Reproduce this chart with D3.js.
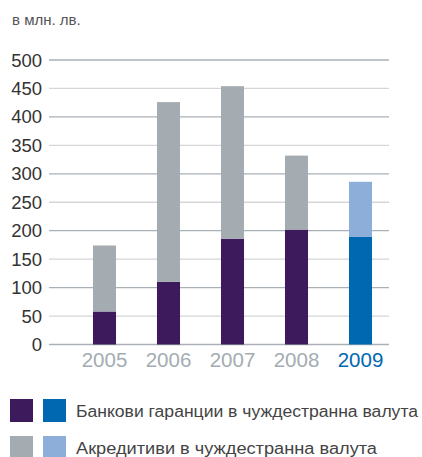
<!DOCTYPE html>
<html>
<head>
<meta charset="utf-8">
<script src="https://cdn.jsdelivr.net/npm/d3@7"></script>
<style>
body { margin: 0; background: #fff; }
svg text { font-family: "Liberation Sans", Arial, sans-serif; }
</style>
</head>
<body>
<svg width="422" height="457"></svg>
<script>
// данни
var years = ["2005", "2006", "2007", "2008", "2009"];
var guarantees = [58, 110, 186, 202, 189];
var letters = [116, 316, 268, 130, 97];
var ticks = [0, 50, 100, 150, 200, 250, 300, 350, 400, 450, 500];
var legendLabels = ["Банкови гаранции в чуждестранна валута", "Акредитиви в чуждестранна валута"];

var svg = d3.select("svg");

var y = d3.scaleLinear().domain([0, 500]).range([344.5, 60]);
var x = d3.scaleBand().domain(years).range([72.5, 392.5]).paddingInner(0.64).paddingOuter(0.32);

// мрежа
svg.selectAll("line.grid").data(ticks).enter()
    .append("line")
    .attr("x1", 49).attr("x2", 389)
    .attr("y1", function(d) { return y(d); })
    .attr("y2", function(d) { return y(d); })
    .attr("stroke", function(d) { return d % 100 == 0 ? "#a9b1b7" : "#d3d7da"; })
    .attr("stroke-width", 1.3);

svg.selectAll("text.tick").data(ticks).enter()
    .append("text")
    .attr("x", 42)
    .attr("y", function(d) { return y(d) + 6.5; })
    .attr("text-anchor", "end")
    .attr("font-size", 18.5)
    .attr("fill", "#333")
    .text(function(d) { return d; });

svg.append("text")
    .attr("x", 12).attr("y", 25)
    .attr("font-size", 15)
    .attr("fill", "#555")
    .text("в млн. лв.");

function last(i) { return i == years.length - 1; }

// колони
svg.selectAll("rect.g").data(years).enter()
    .append("rect")
    .attr("x", function(d) { return x(d); })
    .attr("width", x.bandwidth())
    .attr("y", function(d, i) { return y(guarantees[i]); })
    .attr("height", function(d, i) { return y(0) - y(guarantees[i]); })
    .attr("fill", function(d, i) { return last(i) ? "#0068b1" : "#3d1a5b"; });

svg.selectAll("rect.l").data(years).enter()
    .append("rect")
    .attr("x", function(d) { return x(d); })
    .attr("width", x.bandwidth())
    .attr("y", function(d, i) { return y(guarantees[i] + letters[i]); })
    .attr("height", function(d, i) { return y(guarantees[i]) - y(guarantees[i] + letters[i]); })
    .attr("fill", function(d, i) { return last(i) ? "#8caed8" : "#a4acb2"; });

svg.selectAll("text.year").data(years).enter()
    .append("text")
    .attr("x", function(d) { return x(d) + x.bandwidth() / 2; })
    .attr("y", 367)
    .attr("text-anchor", "middle")
    .attr("font-size", 20.5)
    .attr("fill", function(d, i) { return last(i) ? "#0068b1" : "#a4acb2"; })
    .text(function(d) { return d; });

// легенда
var legendColors = [["#3d1a5b", "#0068b1"], ["#a4acb2", "#8caed8"]];
var legendWidths = [342, 301];
for (var i = 0; i < 2; i++) {
    svg.append("rect").attr("x", 10).attr("y", 399 + 37 * i).attr("width", 23).attr("height", 23).attr("fill", legendColors[i][0]);
    svg.append("rect").attr("x", 43).attr("y", 399 + 37 * i).attr("width", 23).attr("height", 23).attr("fill", legendColors[i][1]);
    svg.append("text")
        .attr("x", 76).attr("y", 417 + 37 * i)
        .attr("font-size", 16)
        .attr("fill", "#444")
        .attr("textLength", legendWidths[i])
        .attr("lengthAdjust", "spacingAndGlyphs")
        .text(legendLabels[i]);
}
</script>
</body>
</html>
